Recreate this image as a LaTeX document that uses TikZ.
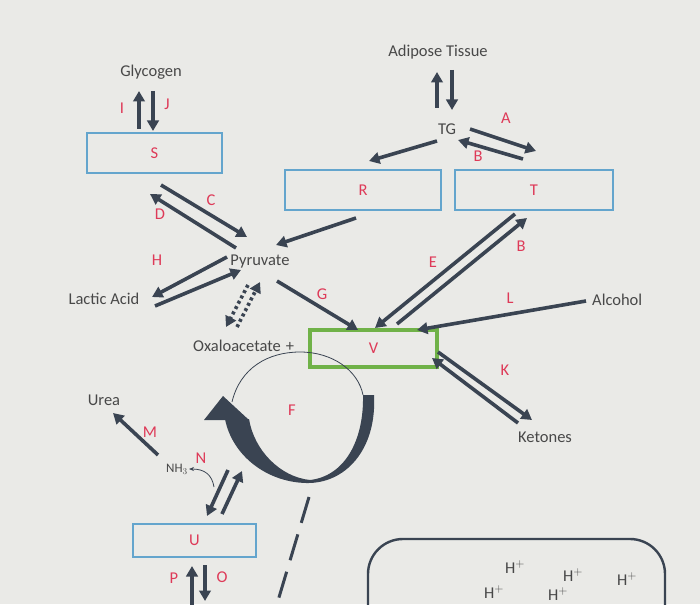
\documentclass[tikz,border=0pt]{standalone}
\usepackage{fontspec}
\setmainfont{Carlito}
\definecolor{paper}{RGB}{234,234,231}
\definecolor{slate}{RGB}{58,68,82}
\definecolor{boxblue}{RGB}{100,165,205}
\definecolor{vgreen}{RGB}{112,178,72}
\definecolor{lblred}{RGB}{222,58,88}
\definecolor{inkgray}{RGB}{72,72,72}
\usetikzlibrary{arrows.meta, positioning}

\begin{document}
\begin{tikzpicture}[x=1pt, y=-1pt,
  txt/.style={text=inkgray, font=\fontsize{16.5}{18}\selectfont, inner sep=1pt},
  lbl/.style={text=lblred, font=\fontsize{16.5}{18}\selectfont, inner sep=1pt},
  box/.style={draw=boxblue, line width=1.5pt, text=lblred,
    font=\fontsize{16.5}{18}\selectfont, inner sep=0pt},
  vbox/.style={box, draw=vgreen, line width=3.5pt},
  flow/.style={draw=slate, line width=3.6pt, -{Triangle[length=10.5pt,width=11.5pt]}},
  dotflow/.style={flow, dash pattern=on 3pt off 3pt},
  thin/.style={draw=slate, line width=0.8pt},
]
  \fill[paper] (0,0) rectangle (700,604);
  \useasboundingbox (0,0) rectangle (700,604);

  % boxes
  \node[box, minimum width=135pt, minimum height=40pt] (S) at (154.5,153) {S};
  \node[box, minimum width=156pt, minimum height=40pt] (R) at (363,190) {R};
  \node[box, minimum width=158pt, minimum height=40pt] (T) at (534,190) {T};
  \node[vbox, minimum width=127pt, minimum height=37pt] (V) at (373.5,348.5) {V};
  \node[box, minimum width=123pt, minimum height=33pt] (U) at (194.5,540.5) {U};

  % metabolites
  \node[txt] (glyc) at (151,72) {Glycogen};
  \node[txt] (adip) at (438,52) {Adipose Tissue};
  \node[txt] (tg) at (447,129) {TG};
  \node[txt] (pyr) at (260,262) {Pyruvate};
  \node[txt] (lact) at (104,299) {Lactic Acid};
  \node[txt, anchor=west] (oaa) at (192,346) {Oxaloacetate\hspace{5pt}+};
  \node[txt, anchor=west] (alc) at (591,300) {Alcohol};
  \node[txt] (ket) at (545,437) {Ketones};
  \node[txt] (urea) at (104,400) {Urea};
  \node[txt, font=\fontsize{13}{15}\selectfont] (nh3) at (177,469) {NH$_3$};

  % letters
  \node[lbl] (lI) at (122,108) {I};
  \node[lbl] (lJ) at (167,104) {J};
  \node[lbl] (lC) at (211,200) {C};
  \node[lbl] (lD) at (160,214) {D};
  \node[lbl] (lH) at (157,260) {H};
  \node[lbl] (lG) at (322,294) {G};
  \node[lbl] (lA) at (506,118) {A};
  \node[lbl] (lB1) at (478,156) {B};
  \node[lbl] (lE) at (433,262) {E};
  \node[lbl] (lB2) at (521,246) {B};
  \node[lbl] (lL) at (510,298) {L};
  \node[lbl] (lK) at (505,370) {K};
  \node[lbl] (lF) at (292,410) {F};
  \node[lbl] (lM) at (150,432) {M};
  \node[lbl] (lN) at (201,458) {N};
  \node[lbl] (lP) at (174,578) {P};
  \node[lbl] (lO) at (222,577) {O};

  % arrow ends
  \coordinate (i1) at (139,129); \coordinate (i2) at (139,91);
  \coordinate (j1) at (153,91);  \coordinate (j2) at (153,131);
  \coordinate (c1) at (161,185); \coordinate (c2) at (247,237);
  \coordinate (d1) at (236,248); \coordinate (d2) at (150,194);
  \coordinate (h1) at (227,257); \coordinate (h2) at (152,297);
  \coordinate (h3) at (155,306); \coordinate (h4) at (241,270);
  \coordinate (p1) at (248,285); \coordinate (p2) at (226,327);
  \coordinate (p3) at (237,327); \coordinate (p4) at (260,282);
  \coordinate (g1) at (277,281); \coordinate (g2) at (358,330);
  \coordinate (r1) at (356,218); \coordinate (r2) at (276,245);
  \coordinate (t1) at (437,141); \coordinate (t2) at (369,161);
  \coordinate (a1) at (470,129); \coordinate (a2) at (536,151);
  \coordinate (b1) at (523,159); \coordinate (b2) at (458,140);
  \coordinate (u1) at (437,108); \coordinate (u2) at (437,72);
  \coordinate (w1) at (452,70);  \coordinate (w2) at (452,110);
  \coordinate (e1) at (515,214); \coordinate (e2) at (375,328);
  \coordinate (e3) at (397,324); \coordinate (e4) at (527,218);
  \coordinate (l1) at (586,301); \coordinate (l2) at (417,330);
  \coordinate (k1) at (438,352); \coordinate (k2) at (532,420);
  \coordinate (k3) at (518,423); \coordinate (k4) at (432,358);
  \coordinate (m1) at (158,455); \coordinate (m2) at (113,413);
  \coordinate (n1) at (228,470); \coordinate (n2) at (207,516);
  \coordinate (n3) at (222,514); \coordinate (n4) at (242,471);
  \coordinate (nb) at (214,487);
  \coordinate (o1) at (192,606); \coordinate (o2) at (192,566);
  \coordinate (o3) at (205,565); \coordinate (o4) at (205,601);

  % connectors
  \draw[flow] (i1) -- (i2);
  \draw[flow] (j1) -- (j2);
  \draw[flow] (c1) -- (c2);
  \draw[flow] (d1) -- (d2);
  \draw[flow] (h1) -- (h2);
  \draw[flow] (h3) -- (h4);
  \draw[dotflow] (p1) -- (p2);
  \draw[dotflow] (p3) -- (p4);
  \draw[flow] (g1) -- (g2);
  \draw[flow] (r1) -- (r2);
  \draw[flow] (t1) -- (t2);
  \draw[flow] (a1) -- (a2);
  \draw[flow] (b1) -- (b2);
  \draw[flow] (u1) -- (u2);
  \draw[flow] (w1) -- (w2);
  \draw[flow] (e1) -- (e2);
  \draw[flow] (e3) -- (e4);
  \draw[flow] (l1) -- (l2);
  \draw[flow] (k1) -- (k2);
  \draw[flow] (k3) -- (k4);
  \draw[flow] (m1) -- (m2);
  \draw[flow] (n1) -- (n2);
  \draw[flow] (n3) -- (n4);
  \draw[thin, -{Stealth[length=5pt,width=4pt]}] (nb) .. controls (212,475) and (205,469) .. (nh3.east);
  \draw[flow] (o1) -- (o2);
  \draw[flow] (o3) -- (o4);

  % cycle
  \draw[thin] (232,402) .. controls (240,368) and (268,352) .. (300,352)
    .. controls (332,352) and (358,370) .. (363,395);
  \fill[slate] (363,395) -- (374,395) .. controls (377,450) and (345,484) .. (306,483)
    .. controls (266,482) and (232,455) .. (225,419) -- (249,419)
    .. controls (254,450) and (280,477) .. (310,480)
    .. controls (345,476) and (364,440) .. (363,395) -- cycle;
  \fill[slate] (204,420) -- (223,396) -- (249,420) -- cycle;
  \draw[slate, line width=3pt, dash pattern=on 27pt off 12pt] (309,497) -- (277,604);

  % membrane
  \begin{scope}
    \clip (0,0) rectangle (700,604);
    \draw[slate, line width=2.4pt, rounded corners=35pt]
      (368,660) -- (368,539) -- (665,539) -- (665,660);
  \end{scope}
  \node[txt] (hp1) at (515,567) {H$^+$};
  \node[txt] (hp2) at (573,575) {H$^+$};
  \node[txt] (hp3) at (627,579) {H$^+$};
  \node[txt] (hp4) at (494,592) {H$^+$};
  \node[txt] (hp5) at (558,594) {H$^+$};
\end{tikzpicture}
\end{document}
